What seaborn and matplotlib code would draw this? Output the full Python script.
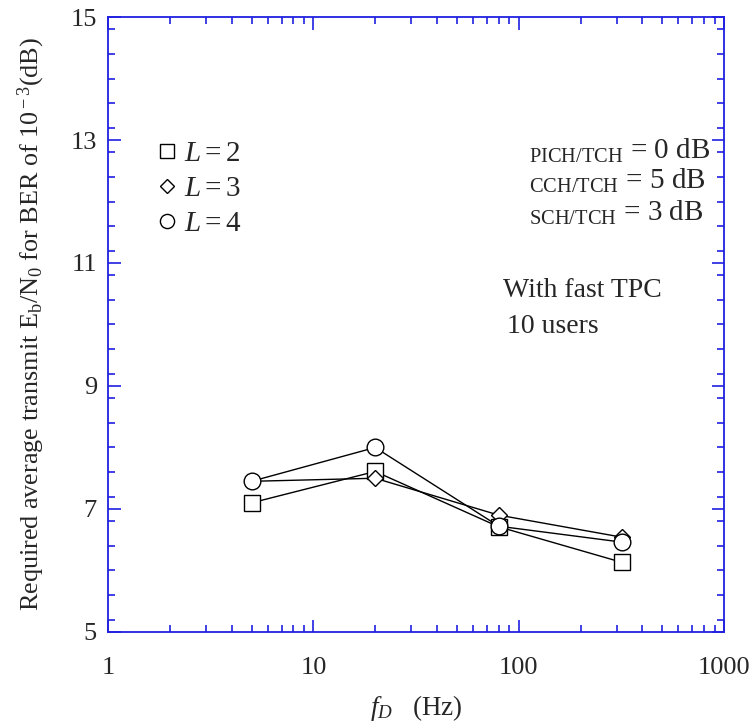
import matplotlib
matplotlib.use("Agg")
import matplotlib.pyplot as plt
from matplotlib.lines import Line2D
from matplotlib.ticker import LogLocator, MultipleLocator, NullFormatter, FixedLocator, FixedFormatter
import seaborn as sns
import pandas as pd

# Doppler frequencies (Hz) and required Eb/N0 (dB) for each number of paths L
doppler_hz = [5, 20, 80, 320]
ebn0_L2 = [7.10, 7.61, 6.71, 6.13]
ebn0_L3 = [7.45, 7.50, 6.90, 6.54]
ebn0_L4 = [7.45, 8.00, 6.72, 6.46]
series_labels = ["L = 2", "L = 3", "L = 4"]
legend_texts = [r"$L = 2$", r"$L = 3$", r"$L = 4$"]
y_ticks = [5, 7, 9, 11, 13, 15]
x_ticks = [1, 10, 100, 1000]

sns.set_style("white")
plt.rcParams["font.family"] = ["Liberation Serif", "DejaVu Serif"]
plt.rcParams["mathtext.fontset"] = "custom"
plt.rcParams["mathtext.rm"] = "Liberation Serif"
plt.rcParams["mathtext.it"] = "Liberation Serif:italic"
plt.rcParams["mathtext.bf"] = "Liberation Serif:bold"

df = pd.concat([
    pd.DataFrame({"fd": doppler_hz, "ebn0": vals, "series": lab})
    for vals, lab in zip([ebn0_L2, ebn0_L3, ebn0_L4], series_labels)
], ignore_index=True)

fig = plt.figure(figsize=(7.56, 7.27), dpi=100)
ax = fig.add_axes([0.1429, 0.1307, 0.8148, 0.8459])

markers = {"L = 2": "s", "L = 3": "D", "L = 4": "o"}
msizes = {"L = 2": 11.5, "L = 3": 8.2, "L = 4": 12}
for lab in series_labels:
    sub = df[df["series"] == lab]
    sns.lineplot(data=sub, x="fd", y="ebn0", ax=ax, color="black", lw=1.0,
                 marker=markers[lab], markersize=msizes[lab],
                 markerfacecolor="white", markeredgecolor="black",
                 markeredgewidth=1.0, legend=False, estimator=None, sort=False)

ax.set_xscale("log")
ax.set_xlim(1, 1000)
ax.set_ylim(5, 15)

blue = "#2020e0"
for s in ax.spines.values():
    s.set_color(blue)
    s.set_linewidth(1.3)

ax.xaxis.set_major_locator(FixedLocator(x_ticks))
ax.xaxis.set_major_formatter(FixedFormatter([str(v) for v in x_ticks]))
ax.xaxis.set_minor_locator(LogLocator(base=10, subs=range(2, 10)))
ax.xaxis.set_minor_formatter(NullFormatter())
ax.yaxis.set_major_locator(FixedLocator(y_ticks))
ax.yaxis.set_major_formatter(FixedFormatter([str(v) for v in y_ticks]))
ax.yaxis.set_minor_locator(MultipleLocator(0.4))

ax.tick_params(which="both", direction="in", top=True, right=True,
               bottom=True, left=True, color=blue, width=1.2)
ax.tick_params(which="major", length=9, labelsize=19)
ax.tick_params(which="minor", length=5)
ax.tick_params(axis="y", which="major", pad=8)
ax.tick_params(axis="x", which="major", pad=18)

ax.set_xlabel(r"$f_D$   (Hz)", fontsize=19.5, labelpad=10)
ax.set_ylabel(r"Required average transmit E$_{\rm b}$/N$_{\rm 0}$ for BER of 10$^{\rm -3}$(dB)",
              fontsize=18.8, labelpad=17)

handles = [Line2D([], [], linestyle="none", marker=markers[lab], markersize=msizes[lab] * 0.85,
                  markerfacecolor="white", markeredgecolor="black", markeredgewidth=1.0)
           for lab in series_labels]
ax.legend(handles, legend_texts, loc="upper left", bbox_to_anchor=(0.060, 0.818),
          frameon=False, fontsize=21, handlelength=0.7, handletextpad=0.25,
          labelspacing=0.3, borderaxespad=0)

ax.text(0.683, 0.783, r"$_{\rm PICH/TCH}$ = 0 dB", transform=ax.transAxes,
        fontsize=21, ha="left", va="center")
ax.text(0.683, 0.734, r"$_{\rm CCH/TCH}$ = 5 dB", transform=ax.transAxes,
        fontsize=21, ha="left", va="center")
ax.text(0.683, 0.682, r"$_{\rm SCH/TCH}$ = 3 dB", transform=ax.transAxes,
        fontsize=21, ha="left", va="center")
ax.text(0.641, 0.556, "With fast TPC", transform=ax.transAxes,
        fontsize=20, ha="left", va="center")
ax.text(0.648, 0.497, "10 users", transform=ax.transAxes,
        fontsize=20, ha="left", va="center")

fig.savefig("out.png", dpi=100)
